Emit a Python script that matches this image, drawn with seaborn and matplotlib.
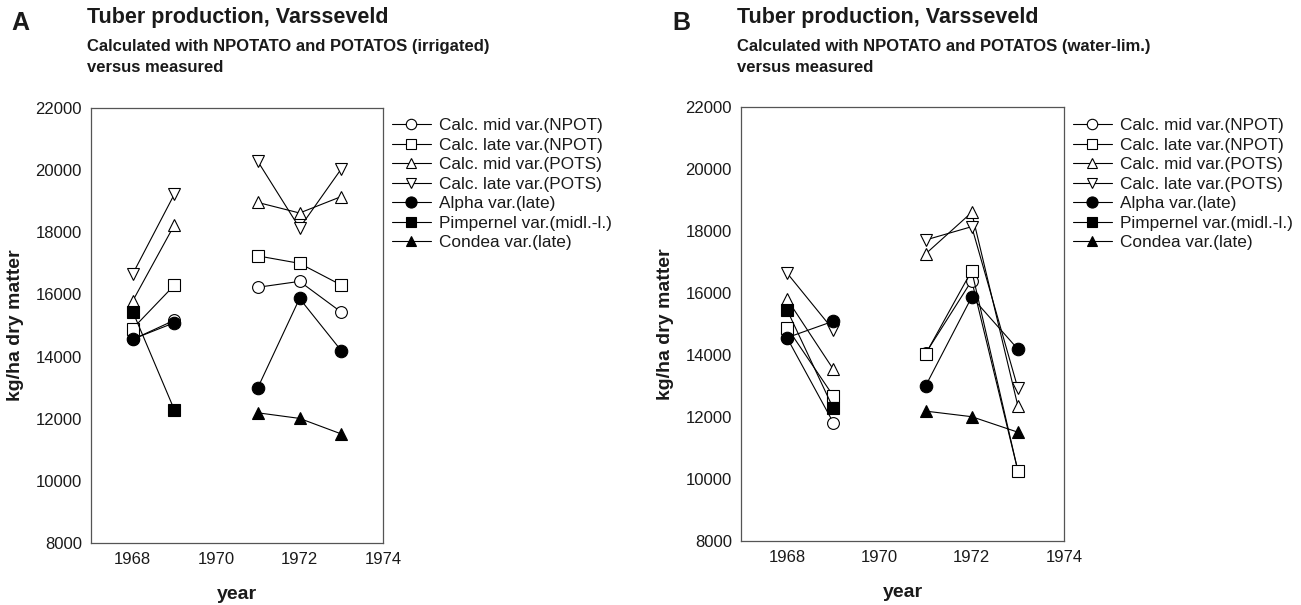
import numpy as np
import pandas as pd
import matplotlib
matplotlib.use("Agg")
import matplotlib.pyplot as plt
from matplotlib.lines import Line2D
from matplotlib.ticker import MultipleLocator
import seaborn as sns

sns.set_style("white")
plt.rcParams['font.family'] = ['Liberation Sans', 'DejaVu Sans']

# ---------------- data ----------------
years = [1968, 1969, 1970, 1971, 1972, 1973]
series_names = [
    "Calc. mid var.(NPOT)",
    "Calc. late var.(NPOT)",
    "Calc. mid var.(POTS)",
    "Calc. late var.(POTS)",
    "Alpha var.(late)",
    "Pimpernel var.(midl.-l.)",
    "Condea var.(late)",
]
nan = np.nan
# Panel A (irrigated)
a_mid_npot  = [14550, 15170, nan, 16230, 16420, 15430]
a_late_npot = [14900, 16300, nan, 17240, 17000, 16300]
a_mid_pots  = [15790, 18240, nan, 18960, 18620, 19150]
a_late_pots = [16660, 19230, nan, 20280, 18140, 20040]
# Panel B (water-limited)
b_mid_npot  = [14550, 11820, nan, 14050, 16400, 10270]
b_late_npot = [14880, 12680, nan, 14030, 16720, 10270]
b_mid_pots  = [15800, 13540, nan, 17260, 18600, 12360]
b_late_pots = [16640, 14810, nan, 17710, 18140, 12930]
# Measured (same in both panels)
alpha     = [14560, 15090, nan, 13000, 15870, 14190]
pimpernel = [15450, 12280, nan, nan, nan, nan]
condea    = [nan, nan, nan, 12190, 12010, 11510]

xticks = [1968, 1970, 1972, 1974]
yticks = [8000, 10000, 12000, 14000, 16000, 18000, 20000, 22000]

panels = [
    dict(letter="A", sub="Calculated with NPOTATO and POTATOS (irrigated)",
         values=[a_mid_npot, a_late_npot, a_mid_pots, a_late_pots, alpha, pimpernel, condea]),
    dict(letter="B", sub="Calculated with NPOTATO and POTATOS (water-lim.)",
         values=[b_mid_npot, b_late_npot, b_mid_pots, b_late_pots, alpha, pimpernel, condea]),
]

# ---------------- styling ----------------
markers = ["o", "s", "^", "v", "o", "s", "^"]
filled = [False, False, False, False, True, True, True]
msizes = [8.5, 8, 8.5, 8.5, 9, 8, 8.5]
lg_sizes = [7.5, 7, 7.5, 7.5, 8, 7, 7.5]

W, H = 1301, 605
fig = plt.figure(figsize=(W / 100, H / 100), dpi=100)

def fx(px):
    return px / W

def fy(py):
    return 1 - py / H

axes_px = [(91, 108, 383, 543), (741, 107, 1064, 541)]
title_x = [87, 737]
letter_x = [11, 672]
legend_x = [392, 1073]

for i, p in enumerate(panels):
    l, t, r, b = axes_px[i]
    ax = fig.add_axes([fx(l), fy(b), fx(r - l), (b - t) / H])
    handles = []
    for k, name in enumerate(series_names):
        vals = np.array(p["values"][k], dtype=float)
        df = pd.DataFrame({"year": years, "value": vals})
        # split into contiguous segments (gap at 1970)
        df["seg"] = np.cumsum(np.isnan(vals))
        df = df.dropna()
        mfc = "black" if filled[k] else "white"
        for _, g in df.groupby("seg"):
            sns.lineplot(data=g, x="year", y="value", ax=ax, color="black",
                         lw=0.8, marker=markers[k], markersize=msizes[k],
                         markerfacecolor=mfc, markeredgecolor="black",
                         markeredgewidth=0.8, zorder=3 + k, legend=False)
        handles.append(Line2D([0], [0], color="black", lw=0.8, marker=markers[k],
                              markersize=lg_sizes[k], markerfacecolor=mfc,
                              markeredgecolor="black", markeredgewidth=0.8))
    ax.set_xlim(1967, 1974)
    ax.set_ylim(8000, 22000)
    ax.set_xticks(xticks)
    ax.set_yticks(yticks)
    ax.set_xticklabels([str(v) for v in xticks])
    ax.set_yticklabels([str(v) for v in yticks])
    ax.xaxis.set_minor_locator(MultipleLocator(1))
    ax.yaxis.set_minor_locator(MultipleLocator(1000))
    ax.tick_params(axis="both", which="major", direction="in", length=6.5,
                   width=0.8, labelsize=12, color="#333333", pad=6.5,
                   labelcolor="#1a1a1a")
    ax.tick_params(axis="both", which="minor", direction="in", length=3.5,
                   width=0.8, color="#333333")
    ax.tick_params(top=False, right=False, which="both")
    for s in ax.spines.values():
        s.set_color("#555555")
        s.set_linewidth(0.9)
        s.set_visible(True)
    ax.set_xlabel("year", fontsize=14, fontweight="bold", labelpad=14, color="#1a1a1a")
    ax.set_ylabel("kg/ha dry matter", fontsize=14, fontweight="bold", labelpad=8, color="#1a1a1a")
    ax.set_facecolor("white")

    fig.text(fx(letter_x[i]), fy(23), p["letter"], fontsize=18, fontweight="bold",
             va="center", ha="left", color="#1a1a1a")
    fig.text(fx(title_x[i]), fy(18), "Tuber production, Varsseveld", fontsize=15.5,
             fontweight="bold", va="center", ha="left", color="#1a1a1a")
    fig.text(fx(title_x[i]), fy(46), p["sub"], fontsize=12, fontweight="bold",
             va="center", ha="left", color="#1a1a1a")
    fig.text(fx(title_x[i]), fy(68), "versus measured", fontsize=12,
             fontweight="bold", va="center", ha="left", color="#1a1a1a")

    fig.legend(handles, series_names, loc="upper left",
               bbox_to_anchor=(fx(legend_x[i]), fy(118)), frameon=False,
               fontsize=12.4, handlelength=2.25, handletextpad=0.5,
               labelspacing=0.26, borderpad=0, borderaxespad=0,
               labelcolor="#1a1a1a")

fig.savefig("out.png", dpi=100, facecolor="white")
